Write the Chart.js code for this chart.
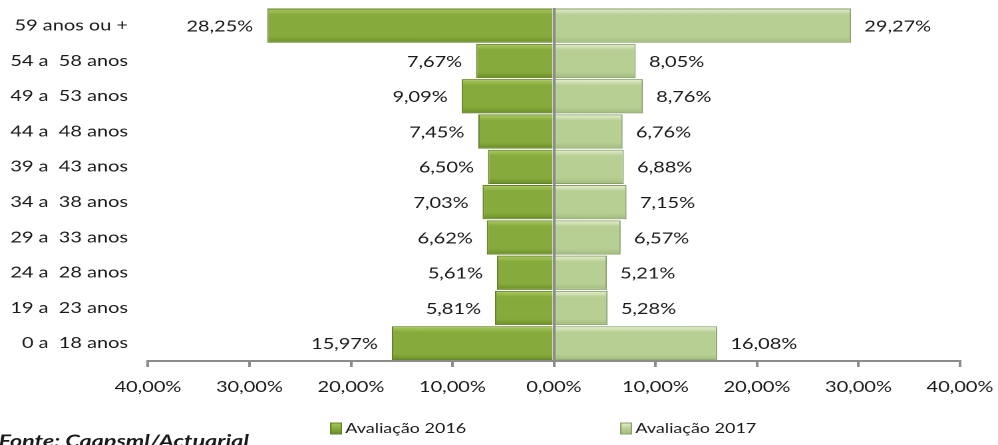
<!DOCTYPE html>
<html>
<head>
<meta charset="utf-8">
<script src="https://cdn.jsdelivr.net/npm/chart.js@4.4.1/dist/chart.umd.min.js"></script>
<style>
html,body{margin:0;padding:0;background:#fff;overflow:hidden;}
#wrap{position:relative;width:998px;height:445px;overflow:hidden;}
#inner{position:absolute;left:0;top:0;width:750px;height:445px;transform:scaleX(1.330667);transform-origin:0 0;}
</style>
</head>
<body>
<div id="wrap"><div id="inner"><canvas id="c" width="750" height="445"></canvas></div></div>
<script>
const categories = ['59 anos ou +','54 a  58 anos','49 a  53 anos','44 a  48 anos','39 a  43 anos','34 a  38 anos','29 a  33 anos','24 a  28 anos','19 a  23 anos','0 a  18 anos'];
const values2016 = [28.25, 7.67, 9.09, 7.45, 6.50, 7.03, 6.62, 5.61, 5.81, 15.97];
const values2017 = [29.27, 8.05, 8.76, 6.76, 6.88, 7.15, 6.57, 5.21, 5.28, 16.08];
const seriesNames = ['Avaliação 2016','Avaliação 2017'];
const sourceText = 'Fonte: Caapsml/Actuarial';

const FONT = 'Lato, "Open Sans", sans-serif';
const fmt = v => Math.abs(v).toFixed(2).replace('.', ',') + '%';

const palettes = [
  {top:'#aecb62', mid:'#86ab3c', bot:'#6a8d26', border:'#62802a'},
  {top:'#e9f2d2', mid:'#b8cf94', bot:'#a2bc7c', border:'#879f69'}
];

function barGradient(ctx, pal){
  const chart = ctx.chart;
  const y = chart.scales && chart.scales.y;
  if (!y || ctx.dataIndex === undefined) return pal.mid;
  const c = y.getPixelForValue(ctx.dataIndex);
  const h = y.height / categories.length * 0.97;
  if (!isFinite(c) || !isFinite(h) || h <= 0) return pal.mid;
  const g = chart.ctx.createLinearGradient(0, c - h/2, 0, c + h/2);
  g.addColorStop(0, pal.top);
  g.addColorStop(0.18, pal.mid);
  g.addColorStop(0.82, pal.mid);
  g.addColorStop(1, pal.bot);
  return g;
}

const labelPlugin = {
  id: 'labels',
  afterDatasetsDraw(chart){
    const ctx = chart.ctx;
    ctx.save();
    ctx.font = '15px ' + FONT;
    ctx.fillStyle = '#1a1a1a';
    ctx.textBaseline = 'middle';
    chart.data.datasets.forEach((ds, di) => {
      const meta = chart.getDatasetMeta(di);
      meta.data.forEach((bar, i) => {
        const v = ds.data[i];
        if (v < 0){ ctx.textAlign = 'right'; ctx.fillText(fmt(v), bar.x - 10.5, bar.y + 1); }
        else { ctx.textAlign = 'left'; ctx.fillText(fmt(v), bar.x + 10, bar.y + 1); }
      });
    });
    ctx.restore();
  },
  afterDraw(chart){
    const ctx = chart.ctx;
    ctx.save();
    const items = [{x:248, text:seriesNames[0], pal:palettes[0]},{x:466, text:seriesNames[1], pal:palettes[1]}];
    const ly = 428.5;
    items.forEach(it => {
      const g = ctx.createLinearGradient(0, ly-6, 0, ly+6);
      g.addColorStop(0, it.pal.top); g.addColorStop(0.5, it.pal.mid); g.addColorStop(1, it.pal.bot);
      ctx.fillStyle = g;
      ctx.fillRect(it.x, ly-6, 9, 12);
      ctx.strokeStyle = it.pal.border; ctx.lineWidth = 1;
      ctx.strokeRect(it.x+0.5, ly-5.5, 8, 11);
      ctx.fillStyle = '#1a1a1a';
      ctx.font = '13.5px ' + FONT;
      ctx.textAlign = 'left'; ctx.textBaseline = 'middle';
      ctx.fillText(it.text, it.x + 11.5, ly);
    });
    ctx.font = 'italic bold 17.5px ' + FONT;
    ctx.fillStyle = '#1a1a1a';
    ctx.textAlign = 'left'; ctx.textBaseline = 'alphabetic';
    ctx.fillText(sourceText, -1, 447);
    ctx.restore();
  }
};

new Chart(document.getElementById('c'), {
  type: 'bar',
  data: {
    labels: categories,
    datasets: [
      {label: seriesNames[0], data: values2016.map(v => -v),
       backgroundColor: c => barGradient(c, palettes[0]), borderColor: palettes[0].border, borderWidth: 1,
       barPercentage: 0.97, categoryPercentage: 1},
      {label: seriesNames[1], data: values2017,
       backgroundColor: c => barGradient(c, palettes[1]), borderColor: palettes[1].border, borderWidth: 1,
       barPercentage: 0.97, categoryPercentage: 1}
    ]
  },
  options: {
    indexAxis: 'y',
    responsive: false,
    animation: false,
    devicePixelRatio: 2,
    layout: {padding: {top: 8, right: 28.6, bottom: 38, left: 0}},
    plugins: {legend: {display: false}, tooltip: {enabled: false}},
    scales: {
      x: {
        stacked: true, min: -40, max: 40,
        ticks: {stepSize: 10, callback: v => fmt(v), color: '#1a1a1a', font: {family: FONT, size: 15}, padding: 11, maxRotation: 0, autoSkip: false},
        grid: {
          color: c => (c.tick && c.tick.value === 0) ? '#8c8c8c' : 'rgba(0,0,0,0)',
          lineWidth: 2, tickColor: '#8c8c8c', tickLength: 6, drawOnChartArea: true, z: 1
        },
        border: {display: true, color: '#8c8c8c', width: 2, z: 2},
        afterFit: s => { s.paddingLeft = 0; s.paddingRight = 0; }
      },
      y: {
        stacked: true,
        ticks: {color: '#1a1a1a', font: {family: FONT, size: 15}, padding: 15},
        grid: {display: false, drawTicks: false},
        border: {display: false},
        afterFit: s => { s.width = 111.2; s.paddingTop = 0; s.paddingBottom = 0; }
      }
    }
  },
  plugins: [labelPlugin]
});
</script>
</body>
</html>
